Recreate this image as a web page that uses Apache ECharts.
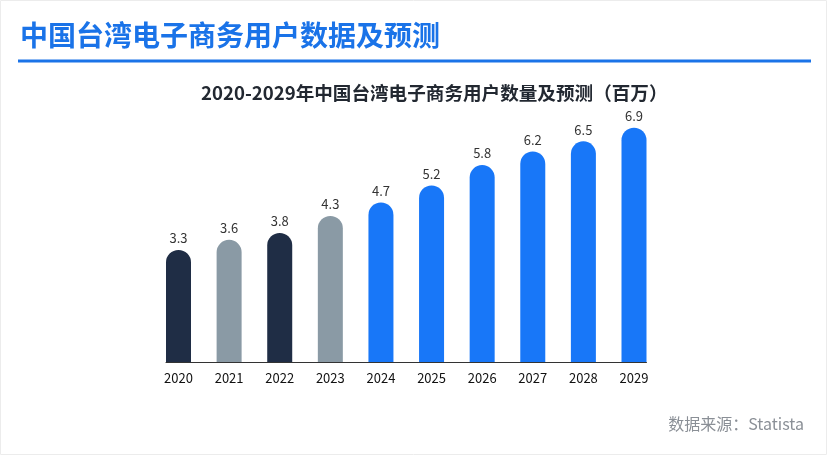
<!DOCTYPE html>
<html>
<head>
<meta charset="utf-8">
<script src="https://cdn.jsdelivr.net/npm/echarts@6/dist/echarts.min.js"></script>
<style>
  html, body { margin: 0; padding: 0; background: #fff; }
  #main { width: 828px; height: 456px; }
</style>
</head>
<body>
<div id="main"></div>
<script>
// 年份 / 用户数（百万）
const years = [2020, 2021, 2022, 2023, 2024, 2025, 2026, 2027, 2028, 2029]
const users = [3.3, 3.6, 3.8, 4.3, 4.7, 5.2, 5.8, 6.2, 6.5, 6.9]
const barColors = ['#1f2d45', '#8a9aa5', '#1f2d45', '#8a9aa5',
  '#1877f8', '#1877f8', '#1877f8', '#1877f8', '#1877f8', '#1877f8']

const font = '"Noto Sans CJK SC", "Noto Sans", sans-serif'

;(function () {
  usersChart()
})()

function usersChart() {
  let chart = echarts.init(document.getElementById('main'))
  let option = {
    textStyle: { fontFamily: font },
    animation: false,
    title: [
      {
        text: '中国台湾电子商务用户数据及预测',
        left: 15,
        top: 16,
        textStyle: { fontSize: 28, fontWeight: 'bold', color: '#1a73e8', fontFamily: font },
      },
      {
        text: '2020-2029年中国台湾电子商务用户数量及预测（百万）',
        left: 196,
        top: 79,
        textStyle: { fontSize: 18.6, fontWeight: 'bold', color: '#222831', fontFamily: font },
      },
      {
        text: '数据来源：Statista',
        right: 19,
        top: 411,
        textStyle: { fontSize: 16, fontWeight: 'normal', color: '#8a8f96', fontFamily: font },
      },
    ],
    graphic: [
      {
        type: 'rect',
        shape: { x: 18, y: 59.5, width: 793, height: 3 },
        style: { fill: '#1a73e8' },
      },
      {
        type: 'rect',
        shape: { x: 0.5, y: 0.5, width: 826, height: 454 },
        style: { fill: 'none', stroke: '#ececec', lineWidth: 1 },
        silent: true,
      },
    ],
    grid: {
      left: 166,
      right: 181.5,
      top: 90.3,
      bottom: 94,
    },
    xAxis: {
      type: 'value',
      min: 2019.753,
      max: 2029.247,
      axisLine: { show: true, lineStyle: { color: '#333', width: 1 } },
      axisTick: { show: false },
      splitLine: { show: false },
      axisLabel: {
        customValues: years,
        margin: 10,
        fontSize: 13,
        color: '#111',
        formatter: (v) => String(v),
      },
    },
    yAxis: {
      type: 'value',
      min: 0,
      max: 8,
      show: false,
    },
    series: [
      {
        type: 'bar',
        barWidth: 25,
        data: years.map((y, i) => [y, users[i]]),
        itemStyle: {
          color: (p) => barColors[p.dataIndex],
          borderRadius: [12.5, 12.5, 0, 0],
        },
        label: {
          show: true,
          position: 'top',
          distance: 5,
          fontSize: 13,
          color: '#333',
          formatter: (p) => p.value[1].toFixed(1),
        },
      },
    ],
  }
  chart.setOption(option)
}
</script>
</body>
</html>
